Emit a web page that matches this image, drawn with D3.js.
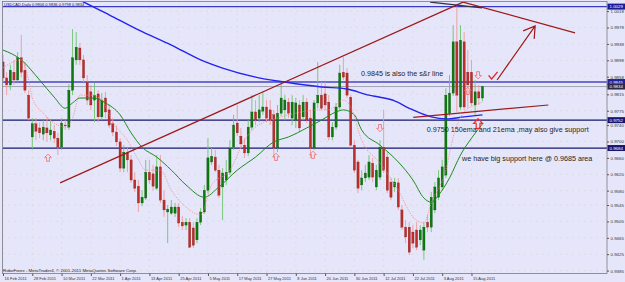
<!DOCTYPE html>
<html>
<head>
<meta charset="utf-8">
<script src="https://cdn.jsdelivr.net/npm/d3@7"></script>
<style>
body { margin: 0; background: #e6e6fa; }
svg { display: block; }
</style>
</head>
<body>
<script>
// daily bars, USDCAD, 16 Feb 2011 .. 18 Aug 2011
const dateLabels = ["16 Feb 2011","28 Feb 2011","10 Mar 2011","22 Mar 2011","1 Apr 2011","13 Apr 2011","25 Apr 2011","5 May 2011","17 May 2011","27 May 2011","8 Jun 2011","20 Jun 2011","30 Jun 2011","12 Jul 2011","22 Jul 2011","3 Aug 2011","15 Aug 2011"];

const open = [0.9894,0.9855,0.9838,0.9869,0.9850,0.9904,0.9874,0.9813,0.9711,0.9743,
0.9733,0.9718,0.9733,0.9716,0.9725,0.9708,0.9686,0.9740,0.9735,0.9825,
0.9899,0.9928,0.9899,0.9845,0.9821,0.9801,0.9816,0.9760,0.9806,0.9777,
0.9743,0.9723,0.9699,0.9635,0.9672,0.9655,0.9606,0.9591,0.9550,0.9562,
0.9625,0.9621,0.9586,0.9638,0.9557,0.9528,0.9525,0.9525,0.9540,0.9503,
0.9496,0.9503,0.9489,0.9460,0.9503,0.9528,0.9581,0.9650,0.9662,0.9630,
0.9589,0.9606,0.9625,0.9686,0.9745,0.9713,0.9691,0.9672,0.9735,0.9772,
0.9757,0.9774,0.9784,0.9777,0.9765,0.9684,0.9769,0.9777,0.9796,0.9757,
0.9752,0.9789,0.9760,0.9796,0.9757,0.9684,0.9794,0.9813,0.9816,0.9796,
0.9711,0.9735,0.9784,0.9869,0.9867,0.9808,0.9691,0.9650,0.9594,0.9611,
0.9613,0.9647,0.9589,0.9613,0.9686,0.9662,0.9601,0.9589,0.9599,0.9533,
0.9491,0.9491,0.9479,0.9484,0.9460,0.9435,0.9503,0.9491,0.9533,0.9564,
0.9589,0.9618,0.9769,0.9818,0.9943,0.9784,0.9943,0.9869,0.9869,0.9789,
0.9821,0.9806];

const high = [0.9911,0.9869,0.9887,0.9899,0.9918,0.9960,0.9894,0.9825,0.9757,0.9757,
0.9747,0.9752,0.9760,0.9752,0.9740,0.9721,0.9757,0.9752,0.9840,0.9974,
0.9967,0.9940,0.9911,0.9862,0.9838,0.9843,0.9825,0.9818,0.9821,0.9791,
0.9757,0.9738,0.9708,0.9691,0.9684,0.9667,0.9625,0.9606,0.9581,0.9655,
0.9655,0.9643,0.9667,0.9667,0.9581,0.9545,0.9557,0.9550,0.9550,0.9518,
0.9513,0.9513,0.9503,0.9513,0.9538,0.9594,0.9708,0.9684,0.9679,0.9643,
0.9635,0.9655,0.9703,0.9765,0.9789,0.9733,0.9708,0.9752,0.9813,0.9801,
0.9813,0.9821,0.9801,0.9801,0.9777,0.9789,0.9843,0.9813,0.9806,0.9813,
0.9806,0.9801,0.9813,0.9806,0.9777,0.9801,0.9894,0.9845,0.9845,0.9813,
0.9747,0.9794,0.9887,0.9906,0.9879,0.9813,0.9703,0.9655,0.9630,0.9643,
0.9667,0.9660,0.9643,0.9703,0.9777,0.9674,0.9611,0.9611,0.9611,0.9545,
0.9508,0.9503,0.9496,0.9503,0.9496,0.9503,0.9521,0.9577,0.9601,0.9630,
0.9655,0.9830,0.9862,0.9984,1.0029,0.9984,0.9967,0.9923,0.9899,0.9850,
0.9838,0.9836];

const low = [0.9845,0.9813,0.9825,0.9838,0.9845,0.9857,0.9818,0.9752,0.9679,0.9703,
0.9708,0.9703,0.9699,0.9703,0.9696,0.9667,0.9679,0.9728,0.9728,0.9813,
0.9887,0.9887,0.9845,0.9789,0.9777,0.9747,0.9747,0.9752,0.9757,0.9733,
0.9713,0.9689,0.9625,0.9625,0.9625,0.9599,0.9577,0.9528,0.9542,0.9557,
0.9596,0.9581,0.9581,0.9550,0.9516,0.9452,0.9521,0.9516,0.9491,0.9484,
0.9484,0.9440,0.9440,0.9452,0.9496,0.9523,0.9574,0.9643,0.9625,0.9562,
0.9508,0.9594,0.9618,0.9679,0.9713,0.9684,0.9660,0.9664,0.9728,0.9740,
0.9747,0.9765,0.9747,0.9740,0.9660,0.9674,0.9762,0.9752,0.9757,0.9740,
0.9733,0.9723,0.9752,0.9745,0.9660,0.9679,0.9781,0.9777,0.9777,0.9703,
0.9703,0.9728,0.9777,0.9850,0.9806,0.9684,0.9623,0.9574,0.9581,0.9601,
0.9606,0.9601,0.9581,0.9606,0.9623,0.9574,0.9557,0.9577,0.9533,0.9484,
0.9452,0.9423,0.9440,0.9435,0.9447,0.9411,0.9479,0.9479,0.9525,0.9557,
0.9581,0.9611,0.9762,0.9811,0.9772,0.9777,0.9777,0.9781,0.9786,0.9765,
0.9789,0.9798];

const close = [0.9855,0.9838,0.9874,0.9850,0.9904,0.9869,0.9825,0.9757,0.9743,0.9725,
0.9721,0.9735,0.9721,0.9728,0.9708,0.9686,0.9745,0.9738,0.9825,0.9904,
0.9930,0.9899,0.9855,0.9801,0.9789,0.9813,0.9760,0.9801,0.9772,0.9740,
0.9723,0.9699,0.9635,0.9674,0.9655,0.9606,0.9586,0.9550,0.9564,0.9625,
0.9606,0.9591,0.9638,0.9557,0.9533,0.9535,0.9540,0.9540,0.9501,0.9494,
0.9503,0.9442,0.9447,0.9503,0.9528,0.9581,0.9660,0.9664,0.9630,0.9569,
0.9623,0.9625,0.9684,0.9740,0.9721,0.9694,0.9672,0.9735,0.9772,0.9752,
0.9777,0.9784,0.9757,0.9752,0.9684,0.9769,0.9806,0.9801,0.9769,0.9796,
0.9794,0.9733,0.9796,0.9752,0.9684,0.9794,0.9813,0.9781,0.9789,0.9711,
0.9735,0.9784,0.9867,0.9857,0.9813,0.9691,0.9630,0.9586,0.9611,0.9623,
0.9650,0.9613,0.9630,0.9686,0.9630,0.9581,0.9564,0.9601,0.9540,0.9491,
0.9467,0.9430,0.9452,0.9442,0.9484,0.9491,0.9491,0.9564,0.9589,0.9611,
0.9638,0.9813,0.9818,0.9943,0.9813,0.9947,0.9784,0.9838,0.9794,0.9821,
0.9806,0.9834];

// moving averages as [bar, price]
const ema8 = [[0,0.9880],[5,0.9899],[7,0.9850],[8,0.9806],[11,0.9769],[15,0.9740],[17,0.9735],[19,0.9757],[21,0.9813],[24,0.9813],[27,0.9801],[30,0.9747],[34,0.9703],[37,0.9655],[39,0.9630],[43,0.9630],[46,0.9581],[50,0.9540],[54,0.9521],[57,0.9594],[62,0.9630],[66,0.9703],[69,0.9735],[75,0.9757],[80,0.9769],[86,0.9777],[89,0.9777],[93,0.9801],[95,0.9784],[98,0.9703],[103,0.9647],[108,0.9581],[112,0.9516],[115,0.9501],[117,0.9550],[121,0.9630],[123,0.9711],[126,0.9772],[129,0.9789],[131,0.9796]];
const ema21 = [[0,0.9923],[5,0.9899],[10,0.9850],[14,0.9808],[17,0.9781],[19,0.9794],[21,0.9806],[25,0.9806],[28,0.9794],[32,0.9765],[35,0.9721],[38,0.9686],[42,0.9662],[46,0.9630],[50,0.9594],[55,0.9564],[59,0.9589],[64,0.9630],[69,0.9662],[74,0.9699],[78,0.9711],[83,0.9733],[87,0.9752],[91,0.9772],[93,0.9777],[96,0.9765],[98,0.9728],[103,0.9691],[108,0.9650],[112,0.9606],[115,0.9562],[117,0.9552],[119,0.9569],[122,0.9611],[125,0.9667],[128,0.9708],[131,0.9743]];
const ema150 = [[16,1.0070],[21,1.0045],[29,1.0009],[37,0.9972],[46,0.9935],[54,0.9899],[60,0.9879],[69,0.9857],[77,0.9845],[87,0.9833],[94,0.9828],[100,0.9813],[103,0.9808],[107,0.9799],[111,0.9781],[117,0.9760],[121,0.9755],[126,0.9760],[131,0.9765]];

const yTickValues = [0.9385,0.9425,0.9465,0.9505,0.9545,0.9580,0.9620,0.9660,0.9700,0.9740,0.9775,0.9815,0.9858,0.9898,0.9938,0.9978,1.0018];
const levels = [1.0029, 0.9845, 0.9834, 0.9752, 0.9684];

// drawn objects in [bar, price] space
const trendLines = [[15.6,0.9599,125.7,1.0040],[125.7,1.0040,156.3,0.9965],[112.1,0.9759,149,0.9789],[116.7,1.0040,130.9,1.0026]];
const targetArrow = [135,0.9850,145.4,0.9982];
const upArrows = [[12.3,0.9660],[74.6,0.9662],[84.7,0.9667],[127,0.9823]];
const downArrows = [[103,0.9733],[129.8,0.9862]];
const bigUpArrow = [129.8,0.9743];
const checkMark = [133.9,0.9860];
const noteTexts = ["0.9845 is also the s&r line","0.9750 150ema and 21ema ,may also give support","we have big support here @ 0.9685 area"];
const noteAnchors = [[97.8,0.9859],[115.8,0.9724],[125.4,0.9652]];

const W = 625, H = 282;
const L = 2.5, T = 1.5, R = 607, B = 273.5;

const svg = d3.select("body").append("svg")
	.attr("width", W)
	.attr("height", H)
	.style("background-color", "#e6e6fa")
	.style("font-family", "'Liberation Sans', Arial, sans-serif");

const x = d3.scaleLinear().domain([0, 165]).range([3, 606.9]);
const y = d3.scaleLinear().domain([0.9385, 1.0029]).range([270.6, 6.6]);

svg.append("clipPath").attr("id", "plot")
	.append("rect").attr("x", L).attr("y", T).attr("width", R - L).attr("height", B - T);

const plot = svg.append("g").attr("clip-path", "url(#plot)");

// dotted grid
const xTickBars = dateLabels.map((d, k) => k * 8);
plot.selectAll(".gy").data(yTickValues).join("line")
	.attr("x1", L).attr("x2", R)
	.attr("y1", d => y(d)).attr("y2", d => y(d))
	.attr("stroke", "#dcc0a4").attr("stroke-width", 0.6)
	.attr("stroke-dasharray", "1,5");
plot.selectAll(".gx").data(xTickBars).join("line")
	.attr("x1", d => x(d)).attr("x2", d => x(d))
	.attr("y1", T).attr("y2", B)
	.attr("stroke", "#dcc0a4").attr("stroke-width", 0.6)
	.attr("stroke-dasharray", "1,5");

// horizontal levels
const levelColor = ["#3a3ac8", "#4444c4", "#a4a4b4", "#16166e", "#16166e"];
const levelWidth = [1.3, 1.5, 1, 1.2, 1.2];
plot.selectAll(".lvl").data(levels).join("line")
	.attr("x1", L).attr("x2", R)
	.attr("y1", d => y(d)).attr("y2", d => y(d))
	.attr("stroke", (d, k) => levelColor[k])
	.attr("stroke-width", (d, k) => levelWidth[k]);

// candles
const bars = d3.range(open.length);
const up = i => close[i] >= open[i];
plot.selectAll(".wick").data(bars).join("line")
	.attr("x1", i => x(i)).attr("x2", i => x(i))
	.attr("y1", i => y(high[i])).attr("y2", i => y(low[i]))
	.attr("stroke", i => up(i) ? "#6cc46c" : "#ee9a9a")
	.attr("stroke-width", 0.9);
plot.selectAll(".body").data(bars).join("rect")
	.attr("x", i => x(i) - 1.1)
	.attr("width", 2.2)
	.attr("y", i => y(Math.max(open[i], close[i])))
	.attr("height", i => Math.max(0.8, Math.abs(y(open[i]) - y(close[i]))))
	.attr("fill", i => up(i) ? "#0c7a0c" : "#bb2e2a")
	.attr("stroke", i => up(i) ? "#055205" : "#8e1c1c")
	.attr("stroke-width", 0.3);

// moving averages
const line = d3.line().x(d => x(d[0])).y(d => y(d[1])).curve(d3.curveMonotoneX);
plot.append("path").datum(ema150).attr("d", line)
	.attr("fill", "none").attr("stroke", "#2424f0").attr("stroke-width", 1.4);
plot.append("path").datum(ema21).attr("d", line)
	.attr("fill", "none").attr("stroke", "#1c8c1c").attr("stroke-width", 1);
plot.append("path").datum(ema8).attr("d", line)
	.attr("fill", "none").attr("stroke", "#f08a8a").attr("stroke-width", 0.8)
	.attr("stroke-dasharray", "1.2,1.2");

// trend lines
plot.selectAll(".trend").data(trendLines).join("line")
	.attr("x1", d => x(d[0])).attr("y1", d => y(d[1]))
	.attr("x2", d => x(d[2])).attr("y2", d => y(d[3]))
	.attr("stroke", (d, k) => k == 3 ? "#333340" : "#9e1a1a")
	.attr("stroke-width", 1.2);

// arrow to target
const ax1 = x(targetArrow[0]), ay1 = y(targetArrow[1]);
const ax2 = x(targetArrow[2]), ay2 = y(targetArrow[3]);
plot.append("path")
	.attr("d", `M${ax1},${ay1}L${ax2},${ay2}M${ax2 - 12},${ay2 + 5}L${ax2},${ay2}L${ax2 - 1},${ay2 + 13}`)
	.attr("fill", "none").attr("stroke", "#a01818").attr("stroke-width", 1.2);

// hollow arrows
const upShape = "M0,-3.8L3.3,-0.4L1.4,-0.4L1.4,3.4L-1.4,3.4L-1.4,-0.4L-3.3,-0.4Z";
plot.selectAll(".ua").data(upArrows).join("path")
	.attr("d", upShape)
	.attr("transform", d => `translate(${x(d[0])},${y(d[1])})`)
	.attr("fill", "none").attr("stroke", "#f06a6a").attr("stroke-width", 0.8);
plot.selectAll(".da").data(downArrows).join("path")
	.attr("d", upShape)
	.attr("transform", d => `translate(${x(d[0])},${y(d[1])}) rotate(180)`)
	.attr("fill", "none").attr("stroke", "#f06a6a").attr("stroke-width", 0.8);
plot.append("path")
	.attr("d", upShape)
	.attr("transform", `translate(${x(bigUpArrow[0])},${y(bigUpArrow[1])}) scale(1.35)`)
	.attr("fill", "none").attr("stroke", "#ff2a2a").attr("stroke-width", 0.9);

// check mark
plot.append("path")
	.attr("d", "M-4.5,-0.5L-1.5,3L4.5,-4")
	.attr("transform", `translate(${x(checkMark[0])},${y(checkMark[1])})`)
	.attr("fill", "none").attr("stroke", "#e82020").attr("stroke-width", 1.3);

// notes
svg.selectAll(".note").data(noteTexts).join("text")
	.attr("x", (d, k) => x(noteAnchors[k][0]))
	.attr("y", (d, k) => y(noteAnchors[k][1]))
	.attr("font-size", 7.2)
	.attr("fill", "#1e1e1e")
	.text(d => d);

// frame
svg.append("rect")
	.attr("x", L).attr("y", T).attr("width", R - L).attr("height", B - T)
	.attr("fill", "none").attr("stroke", "#7a7a80").attr("stroke-width", 0.8);

// price axis
const yAxis = svg.append("g").attr("transform", `translate(${R},0)`)
	.call(d3.axisRight(y).tickValues(yTickValues).tickFormat(d3.format(".4f")).tickSize(2).tickPadding(1.5));
yAxis.select(".domain").remove();
yAxis.selectAll("line").attr("stroke", "#555");
yAxis.selectAll("text").attr("font-size", 4.4).attr("fill", "#333").attr("font-family", "'Liberation Sans', Arial, sans-serif");

// level labels
const labelFill = ["#1c1c96", "#22229a", "#2a2a48", "#16166e", "#16166e"];
const lab = svg.selectAll(".lab").data(levels).join("g")
	.attr("transform", d => `translate(${R},${y(d)})`);
lab.append("rect")
	.attr("x", 0.5).attr("y", -3).attr("width", 17.5).attr("height", 6)
	.attr("fill", (d, k) => labelFill[k]);
lab.append("text")
	.attr("x", 2.5).attr("y", 1.6)
	.attr("font-size", 4.4).attr("fill", "#fff")
	.text(d => d.toFixed(4));

// date axis
const xAxis = svg.append("g").attr("transform", `translate(0,${B})`)
	.call(d3.axisBottom(x).tickValues(xTickBars).tickFormat((d, k) => dateLabels[k]).tickSize(2.5).tickPadding(1));
xAxis.select(".domain").remove();
xAxis.selectAll("line").attr("stroke", "#555");
xAxis.selectAll("text")
	.attr("text-anchor", "start").attr("dx", 1).attr("dy", 0)
	.attr("y", 6.3)
	.attr("font-size", 4).attr("fill", "#333").attr("font-family", "'Liberation Sans', Arial, sans-serif");

// header and copyright
svg.append("text").attr("x", 4).attr("y", 6.2)
	.attr("font-size", 4).attr("fill", "#222")
	.text("USDCAD,Daily  0.9806 0.9836 0.9798 0.9834");
svg.append("text").attr("x", 3).attr("y", 271.5)
	.attr("font-size", 4.4).attr("fill", "#222")
	.text("RoboForex - MetaTrader4, © 2001-2011 MetaQuotes Software Corp.");
</script>
</body>
</html>
